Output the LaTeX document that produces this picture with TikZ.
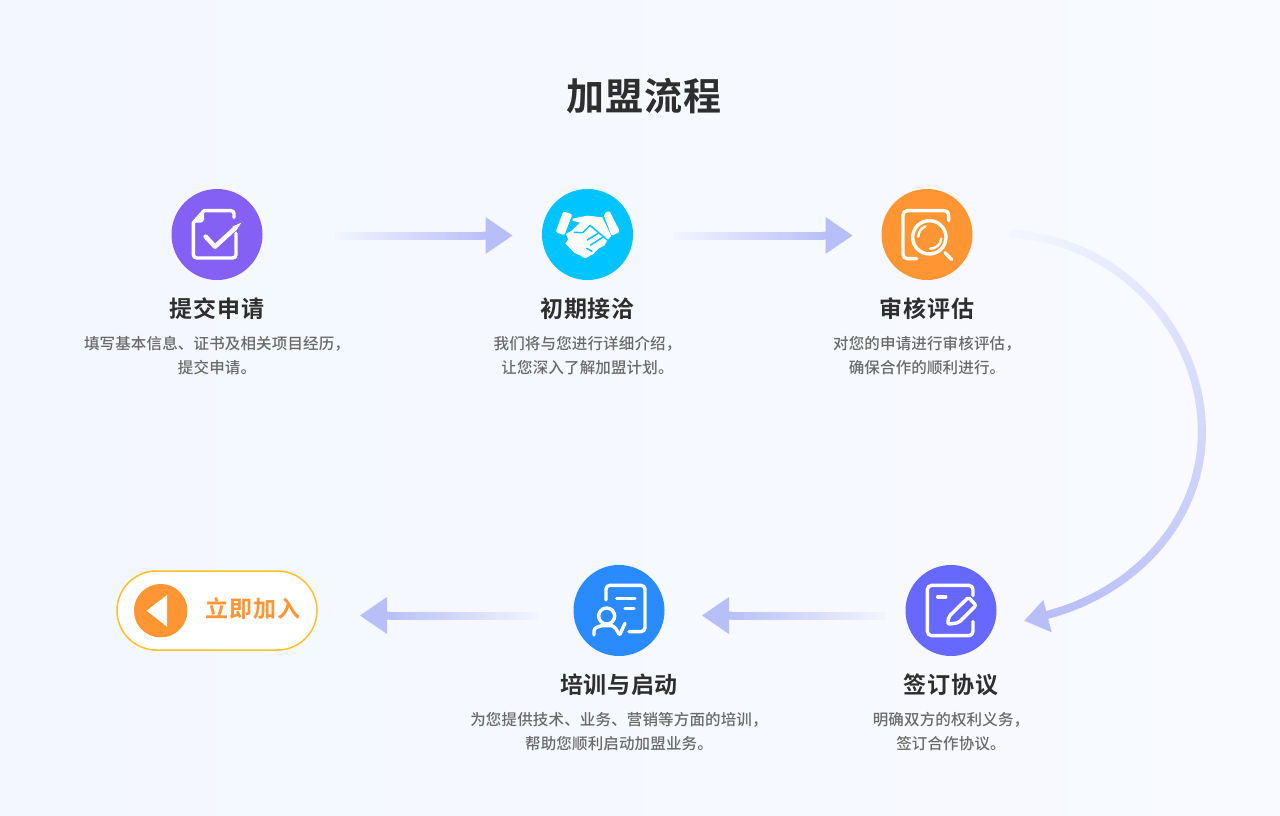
\documentclass[tikz,border=0pt]{standalone}
\usepackage{fontspec}
\usetikzlibrary{calc}
\newfontfamily\ttlfont[LetterSpace=3]{Noto Sans CJK SC Bold}
\newfontfamily\subfont[LetterSpace=3]{Noto Sans CJK SC Bold}
\newfontfamily\bodyfont[LetterSpace=1]{Noto Sans CJK SC Medium}
\definecolor{bgl}{HTML}{F3F7FF}
\definecolor{bgr}{HTML}{F8FAFF}
\definecolor{bgc}{HTML}{F8FAFF}
\definecolor{arrowc}{HTML}{B8BEF8}
\definecolor{cpurple}{HTML}{8560F5}
\definecolor{ccyan}{HTML}{00C4FF}
\definecolor{corange}{HTML}{FF9533}
\definecolor{cindigo}{HTML}{6668FF}
\definecolor{cblue}{HTML}{2A8AFF}
\definecolor{cborder}{HTML}{FFC02E}
\definecolor{ctext}{HTML}{2E2E2E}
\definecolor{cbody}{HTML}{6A6A6A}
\tikzset{
  iconball/.style={circle,minimum size=91pt,inner sep=0pt,text=white},
  pagetitle/.style={inner sep=0pt,text=ctext,font=\ttlfont\fontsize{38}{44}\selectfont},
  steptitle/.style={inner sep=0pt,text=ctext,font=\subfont\fontsize{23}{28}\selectfont},
  stepbody/.style={inner sep=0pt,text=cbody,align=center,font=\bodyfont\fontsize{15.5}{24}\selectfont},
  shaftline/.style={line width=8pt,line cap=butt},
  headfill/.style={fill=arrowc},
  iconline/.style={draw=white,line width=3.4pt,line cap=round,line join=round,fill=none},
}
\newcommand{\gshaft}[2]{%
  \foreach \i in {0,...,39}{%
    \pgfmathsetmacro\ta{\i/40}%
    \pgfmathsetmacro\tb{min(1,(\i+1.25)/40)}%
    \pgfmathsetmacro\mx{8+(\i+0.5)/40*92}%
    \draw[shaftline,draw=arrowc!\mx!bgc] ($(#1)!\ta!(#2)$) -- ($(#1)!\tb!(#2)$);
  }%
}
\begin{document}
\begin{tikzpicture}[x=1pt,y=-1pt]
\useasboundingbox (0,0) rectangle (1280,816);
\shade[left color=bgl,right color=bgr,shading angle=90] (0,0) rectangle (1280,816);

\node[pagetitle] (title) at (644,96) {加盟流程};

% circles
\node[iconball,fill=cpurple] (s1) at (217,234.5) {};
\node[iconball,fill=ccyan] (s2) at (587.5,234.5) {};
\node[iconball,fill=corange] (s3) at (927,234.5) {};
\node[iconball,fill=cindigo] (s4) at (951,610.5) {};
\node[iconball,fill=cblue] (s5) at (619,610.5) {};

% labels
\node[steptitle] (t1) at (217,309) {提交申请};
\node[steptitle] (t2) at (587.5,309) {初期接洽};
\node[steptitle] (t3) at (927,309) {审核评估};
\node[steptitle] (t4) at (951,685) {签订协议};
\node[steptitle] (t5) at (619,685) {培训与启动};
\node[stepbody] (b1) at (217,356) {填写基本信息、证书及相关项目经历，\\提交申请。};
\node[stepbody] (b2) at (587.5,356) {我们将与您进行详细介绍，\\让您深入了解加盟计划。};
\node[stepbody] (b3) at (927,356) {对您的申请进行审核评估，\\确保合作的顺利进行。};
\node[stepbody] (b4) at (951,732) {明确双方的权利义务，\\签订合作协议。};
\node[stepbody] (b5) at (619,732) {为您提供技术、业务、营销等方面的培训，\\帮助您顺利启动加盟业务。};

% arrows
\coordinate (a1s) at (335,235.5); \coordinate (a1e) at (487,235.5);
\coordinate (a1t) at (512.5,235.5); \coordinate (a1u) at (485.5,217); \coordinate (a1d) at (485.5,254);
\coordinate (a2s) at (673,235.5); \coordinate (a2e) at (827,235.5);
\coordinate (a2t) at (852.5,235.5); \coordinate (a2u) at (825.5,217); \coordinate (a2d) at (825.5,254);
\coordinate (a3s) at (885,615.5); \coordinate (a3e) at (728,615.5);
\coordinate (a3t) at (702,615.5); \coordinate (a3u) at (729,597); \coordinate (a3d) at (729,634);
\coordinate (a4s) at (538,615.5); \coordinate (a4e) at (386,615.5);
\coordinate (a4t) at (360,615.5); \coordinate (a4u) at (387,597); \coordinate (a4d) at (387,634);
\gshaft{a1s}{a1e} \gshaft{a2s}{a2e} \gshaft{a3s}{a3e} \gshaft{a4s}{a4e}
\fill[headfill] (a1t) -- (a1u) -- (a1d) -- cycle;
\fill[headfill] (a2t) -- (a2u) -- (a2d) -- cycle;
\fill[headfill] (a3t) -- (a3u) -- (a3d) -- cycle;
\fill[headfill] (a4t) -- (a4u) -- (a4d) -- cycle;

% curved arrow: two cubic pieces sampled with pgfmath
\foreach \px/\py/\qx/\qy/\rx/\ry/\sx/\sy/\ma/\mb in
  {1010/234/1114/238/1202/327/1202/432/6/58, 1202/432/1202/520/1135/592/1047/615/58/100}{%
  \foreach \i in {0,...,59}{%
    \pgfmathsetmacro\ta{\i/60}%
    \pgfmathsetmacro\tb{min(1,(\i+1.3)/60)}%
    \pgfmathsetmacro\xa{(1-\ta)^3*\px+3*(1-\ta)^2*\ta*\qx+3*(1-\ta)*\ta^2*\rx+\ta^3*\sx}%
    \pgfmathsetmacro\ya{(1-\ta)^3*\py+3*(1-\ta)^2*\ta*\qy+3*(1-\ta)*\ta^2*\ry+\ta^3*\sy}%
    \pgfmathsetmacro\xb{(1-\tb)^3*\px+3*(1-\tb)^2*\tb*\qx+3*(1-\tb)*\tb^2*\rx+\tb^3*\sx}%
    \pgfmathsetmacro\yb{(1-\tb)^3*\py+3*(1-\tb)^2*\tb*\qy+3*(1-\tb)*\tb^2*\ry+\tb^3*\sy}%
    \pgfmathsetmacro\mx{\ma+(\mb-\ma)*(\i+0.5)/60}%
    \draw[shaftline,draw=arrowc!\mx!bgc] (\xa,\ya) -- (\xb,\yb);
  }%
}
\coordinate (a5t) at (1024.3,620.7); \coordinate (a5u) at (1043.3,600); \coordinate (a5d) at (1051.7,632.3);
\fill[headfill] (a5t) -- (a5u) -- (a5d) -- cycle;

% icon 1
\begin{scope}[shift={(160,180)},x=0.33333pt,y=-0.33333pt]
  \draw[iconline] (222,112) -- (222,100) to[out=90,in=0] (212,92) -- (132,92) -- (100,128) -- (100,224) to[out=-90,in=180] (110,234) -- (218,234) to[out=0,in=-90] (228,224) -- (228,160);
  \fill[white] (100,128) -- (132,92) -- (132,118) to[out=-90,in=0] (122,128) -- cycle;
  \draw[iconline,line width=4.5pt] (137,170) -- (165,200) -- (225,145);
  \fill[white] (218,139) -- (244,128) -- (228,152) -- cycle;
\end{scope}

% icon 2 handshake
\begin{scope}[shift={(530,180)},x=0.33333pt,y=-0.33333pt]
  \fill[white,rounded corners=2pt] (100,94) -- (127,103) -- (103,166) -- (77,156) -- cycle;
  \fill[white,rounded corners=2pt] (220,102) -- (238,92) -- (270,155) -- (245,168) -- cycle;
  \fill[white] (128,116) -- (172,107) -- (217,112) -- (244,168) -- (232,180) -- (224,196) -- (205,206) -- (190,222) -- (165,235) -- (150,226) -- (132,218) -- (118,203) -- (106,190) -- (115,178) -- (108,162) -- (125,152) -- (150,128) -- (128,122) -- cycle;
  \draw[ccyan,line width=1.5pt,line join=round] (132,157) -- (158,158) -- (180,136) -- (232,180);
  \draw[ccyan,line width=1.5pt,line cap=round] (172,180) -- (204,160);
  \draw[ccyan,line width=1.5pt,line cap=round] (182,195) -- (218,172);
  \draw[ccyan,line width=1.5pt,line cap=round] (170,205) -- (186,214);
\end{scope}

% icon 3
\begin{scope}[shift={(870,180)},x=0.33333pt,y=-0.33333pt]
  \draw[iconline] (140,236) -- (112,236) to[out=180,in=-90] (99,223) -- (99,105) to[out=90,in=180] (112,92) -- (223,92) to[out=0,in=90] (236,105) -- (236,122);
  \draw[iconline] (178,172) circle[radius=50];
  \draw[iconline,line width=2.4pt] (145,170) arc[start angle=180,end angle=250,radius=33];
  \draw[iconline,line width=2.4pt] (180,206) arc[start angle=92,end angle=5,radius=33];
  \draw[iconline] (225,218) -- (245,238);
\end{scope}

% icon 4
\begin{scope}[shift={(895,555)},x=0.33333pt,y=-0.33333pt]
  \draw[iconline] (234,122) -- (234,104) to[out=90,in=0] (222,91) -- (110,91) to[out=180,in=90] (97,104) -- (97,229) to[out=-90,in=180] (110,242) -- (222,242) to[out=0,in=-90] (234,229) -- (234,200);
  \draw[iconline] (128,126) -- (152,126);
  \draw[iconline,rounded corners=2pt] (158,208) -- (161,185) -- (212,135) to[out=45,in=135] (228,135) -- (243,151) -- (191,203) -- cycle;
\end{scope}

% icon 5
\begin{scope}[shift={(565,555)},x=0.33333pt,y=-0.33333pt]
  \draw[iconline] (123,135) -- (123,102) to[out=90,in=180] (135,91) -- (228,91) to[out=0,in=90] (240,102) -- (240,218) to[out=-90,in=0] (228,230) -- (192,230);
  \draw[iconline] (155,130) -- (210,130);
  \draw[iconline] (180,160) -- (207,160);
  \draw[iconline] (125,183) circle[radius=24];
  \draw[iconline] (87,240) -- (87,228) to[out=90,in=200] (110,212) -- (140,212) to[out=-20,in=120] (162,238);
  \draw[iconline] (165,238) -- (180,205);
\end{scope}

% button
\node[draw=cborder,fill=white,line width=1.5pt,rounded corners=39.5pt,minimum width=200pt,minimum height=79pt,inner sep=0pt] (btn) at (217,610.5) {};
\node[circle,fill=corange,minimum size=53.5pt,inner sep=0pt] (btnc) at (160.7,610.7) {};
\coordinate (tr1) at (146.7,610.7); \coordinate (tr2) at (167,595); \coordinate (tr3) at (167,626.7);
\fill[white] (tr1) -- (tr2) -- (tr3) -- cycle;
\node[inner sep=0pt,text=corange,font=\subfont\fontsize{23}{28}\selectfont] (btnt) at (253,609) {立即加入};
\end{tikzpicture}
\end{document}
